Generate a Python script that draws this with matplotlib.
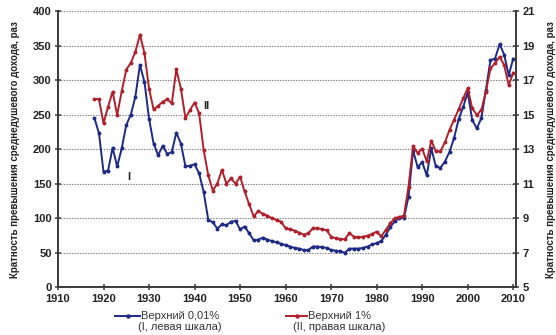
import matplotlib
matplotlib.use("Agg")
import matplotlib.pyplot as plt
from matplotlib.lines import Line2D

# Multiple of average income per capita
years = list(range(1918, 2011))

top_001 = [  # top 0.01 %, left scale
    245, 223, 167, 169, 202, 175, 201, 235, 250, 276,
    322, 297, 244, 208, 191, 205, 193, 196, 224, 208,
    175, 176, 178, 165, 138, 98, 94, 85, 91, 90,
    95, 96, 84, 88, 78, 68, 69, 72, 69, 67,
    65, 63, 61, 59, 57, 56, 54, 54, 59, 59,
    58, 57, 54, 53, 52, 50, 56, 56, 56, 57,
    59, 62, 64, 67, 76, 87, 96, 100, 101, 131,
    198, 174, 181, 162, 201, 175, 173, 182, 196, 216,
    243, 261, 282, 242, 230, 245, 286, 329, 331, 352,
    337, 307, 331,
]

top_1 = [  # top 1 %, right scale
    15.9, 15.9, 14.5, 15.45, 16.33, 14.98, 16.35, 17.6, 18.0, 18.64,
    19.63, 18.55, 16.5, 15.3, 15.5, 15.75, 15.89, 15.65, 17.62, 16.5,
    14.79, 15.27, 15.7, 15.08, 12.95, 11.5, 10.6, 11.0, 11.8, 11.0,
    11.3, 11.0, 11.4, 10.55, 9.8, 9.1, 9.42, 9.25, 9.15, 9.0,
    8.9, 8.8, 8.42, 8.36, 8.28, 8.16, 8.05, 8.13, 8.42, 8.42,
    8.36, 8.3, 7.93, 7.84, 7.8, 7.78, 8.13, 7.93, 7.89, 7.93,
    7.99, 8.09, 8.22, 7.95, 8.32, 8.71, 9.0, 9.07, 9.15, 10.83,
    13.18, 12.78, 13.03, 12.29, 13.5, 12.87, 12.87, 13.4, 14.11, 14.7,
    15.3, 15.94, 16.52, 15.36, 14.98, 15.27, 16.33, 17.68, 17.97, 18.35,
    17.87, 16.71, 17.42,
]

x_ticks = list(range(1910, 2011, 10))
left_ticks = list(range(0, 401, 50))
right_ticks = list(range(5, 22, 2))

legend_entries = [
    ("Верхний 0,01%", "(I, левая шкала)"),
    ("Верхний 1%", "(II, правая шкала)"),
]
axis_title = "Кратность превышения среднедушевого дохода, раз"

BLUE = "#1c2a86"
RED = "#b0202a"
AX_COL = "#3a3a3a"
TXT = "#222222"

plt.rcParams["font.family"] = ["Liberation Sans", "DejaVu Sans"]

W, H = 556, 335
fig = plt.figure(figsize=(W / 100, H / 100), dpi=100)
ax = fig.add_axes([0.1043, 0.1424, 0.8237, 0.8248])
ax2 = ax.twinx()

ax.set_xlim(1910, 2010.6)
ax.set_ylim(0, 400)
ax2.set_ylim(5, 21)

for y in left_ticks[1:]:
    ax.axhline(y, color="#7a7a7a", lw=0.8, ls=(0, (1.2, 1.2)), zorder=0)

l1, = ax.plot(years, top_001, color=BLUE, lw=1.4, marker="o", ms=1.8,
              zorder=3)
l2, = ax2.plot(years, top_1, color=RED, lw=1.4, marker="o", ms=1.8,
               zorder=3)

ax.set_xticks(x_ticks)
ax.set_yticks(left_ticks)
ax2.set_yticks(right_ticks)

for a in (ax, ax2):
    a.spines["top"].set_visible(False)
    for s in ("left", "right", "bottom"):
        a.spines[s].set_color(AX_COL)
        a.spines[s].set_linewidth(1.4)
    a.tick_params(direction="inout", length=5, width=1.1, color=AX_COL,
                  labelsize=8, labelcolor=TXT, pad=2)
ax.spines["right"].set_visible(False)
ax2.spines["left"].set_visible(False)
ax2.spines["bottom"].set_visible(False)

for t in ax.get_xticklabels() + ax.get_yticklabels() + ax2.get_yticklabels():
    t.set_fontweight("bold")

narrow = ["Liberation Sans Narrow", "Liberation Sans"]
ax.set_ylabel(axis_title, fontsize=7, fontweight="bold", color=TXT,
              family=narrow, labelpad=9)
ax2.set_ylabel(axis_title, fontsize=7, fontweight="bold", color=TXT,
               family=narrow, rotation=90, labelpad=8)

ax.text(1942.5, 262, "II", fontsize=8, fontweight="bold", color=TXT,
        ha="center", va="center")
ax.text(1925.5, 160, "I", fontsize=8, fontweight="bold", color=TXT,
        ha="center", va="center")

# Legend below the plot: key line on the first text row, note centred below
def legend_item(x0, x1, color, name, note):
    yl = 1 - 316 / H
    fig.add_artist(Line2D([x0 / W, x1 / W], [yl, yl], color=color, lw=1.4,
                          transform=fig.transFigure))
    fig.add_artist(Line2D([(x0 + x1) / 2 / W], [yl], color=color, marker="o",
                          ms=2.2, transform=fig.transFigure))
    t1 = fig.text(x1 / W + 0.001, yl, name, fontsize=8, color="#333333",
                  ha="left", va="center")
    fig.canvas.draw()
    bb = t1.get_window_extent()
    cx = (bb.x0 + bb.x1) / 2 / W
    fig.text(cx, 1 - 327.5 / H, note, fontsize=8, color="#333333",
             ha="center", va="center")

legend_item(115, 140, BLUE, *legend_entries[0])
legend_item(286, 307, RED, *legend_entries[1])

fig.savefig("out.png", dpi=100)
